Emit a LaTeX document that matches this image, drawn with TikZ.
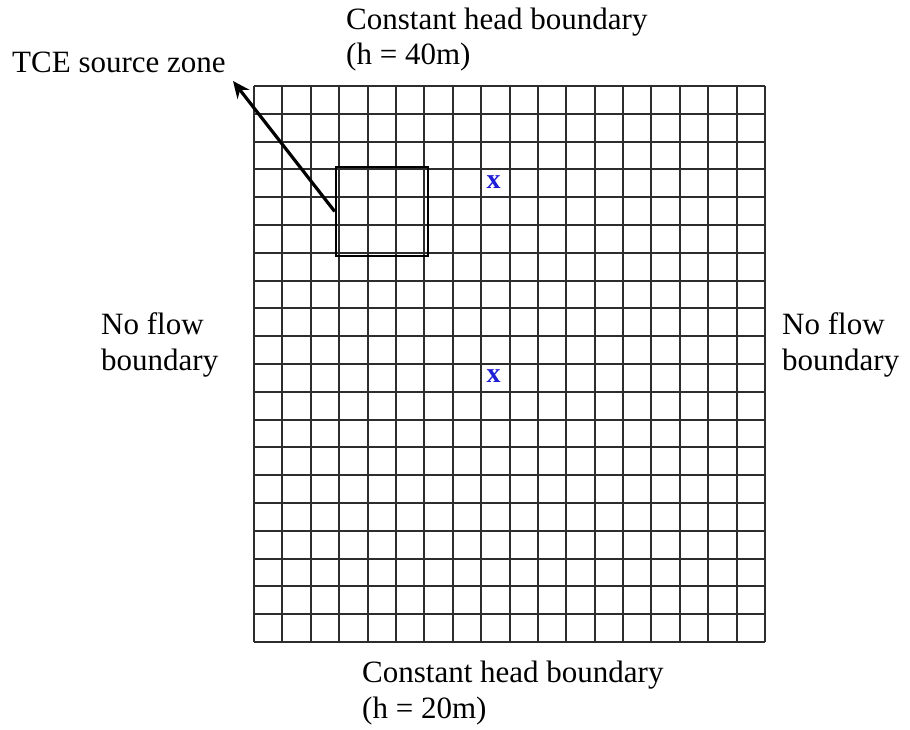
\documentclass[tikz,border=0pt]{standalone}
\usepackage{fontspec}
\setmainfont{Liberation Serif}
\usetikzlibrary{arrows.meta}
\definecolor{gridgray}{RGB}{45,45,45}
\definecolor{xblue}{RGB}{30,30,215}
\tikzset{
  lbl/.style={anchor=base west, inner sep=0pt, font=\fontsize{31}{36}\selectfont},
  gridline/.style={draw=gridgray, line width=2pt},
  xmark/.style={text=xblue, font=\fontsize{28}{28}\selectfont\bfseries, inner sep=0pt},
  srcbox/.style={draw=black, line width=2.6pt, minimum width=92pt, minimum height=89pt, inner sep=0pt},
  pointer/.style={draw=black, line width=3.2pt, -{Stealth[length=17pt, width=15pt]}}
}
\begin{document}
\begin{tikzpicture}[x=1pt, y=-1pt]
\useasboundingbox (0,0) rectangle (910,730);
% grid 18 x 20
\foreach \i in {0,...,18} {
  \draw[gridline] ({254+\i*511/18},86) -- ({254+\i*511/18},642);
}
\foreach \j in {0,...,20} {
  \draw[gridline] (254,{86+\j*556/20}) -- (765,{86+\j*556/20});
}
% source zone
\node[srcbox] (src) at (382,211.5) {};
% blue x marks
\node[xmark] (x1) at (493.5,182) {x};
\node[xmark] (x2) at (493.5,376) {x};
% labels
\node[lbl] (tce) at (12,73) {TCE source zone};
\coordinate (tip) at (233,81);
\draw[pointer] (src.west) -- (tip);
\node[lbl] (top1) at (346,30) {Constant head boundary};
\node[lbl] (top2) at (346,65) {(h = 40m)};
\node[lbl] (bot1) at (362,682) {Constant head boundary};
\node[lbl] (bot2) at (362,718) {(h = 20m)};
\node[lbl] (left1) at (101,334) {No flow};
\node[lbl] (left2) at (101,370) {boundary};
\node[lbl] (right1) at (782,334) {No flow};
\node[lbl] (right2) at (782,370) {boundary};
\end{tikzpicture}
\end{document}
